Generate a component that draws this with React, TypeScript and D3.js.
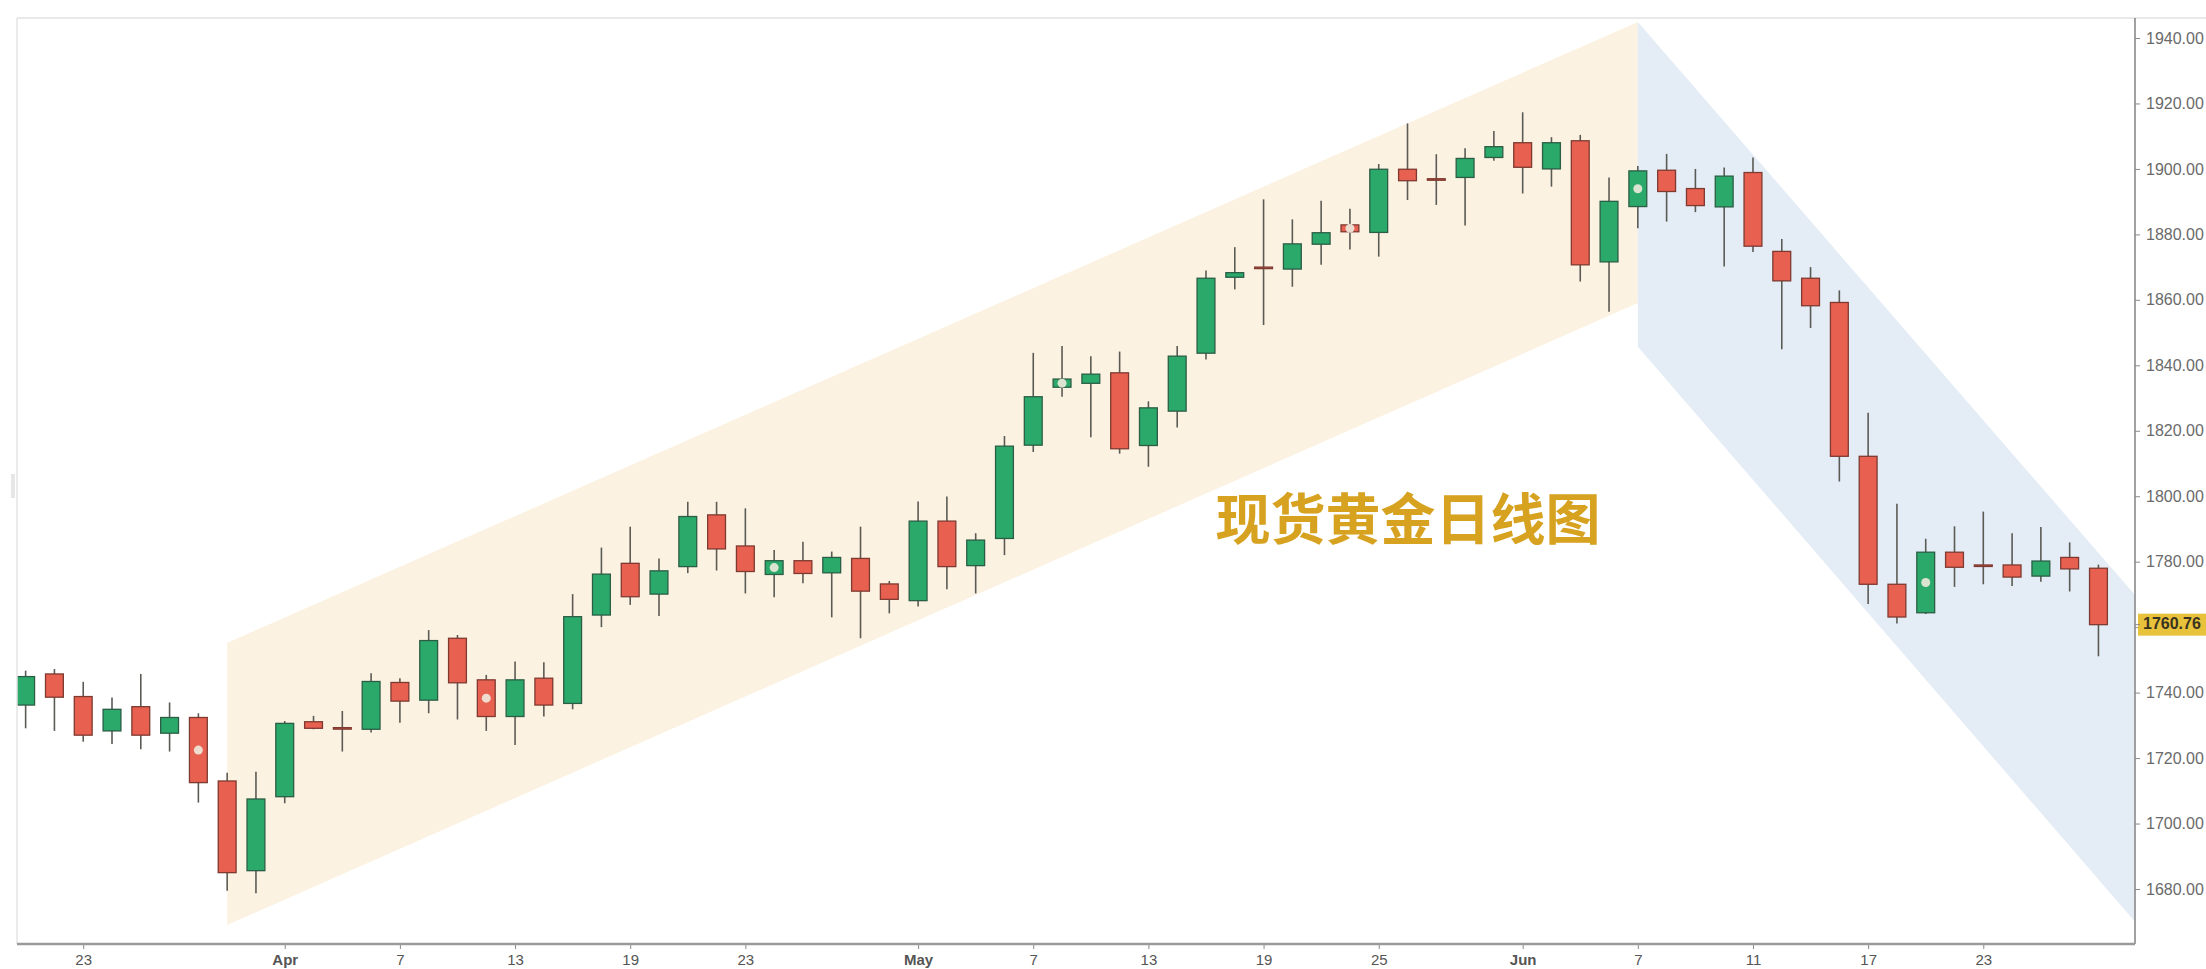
import { useEffect, useRef } from 'react'
import * as d3 from 'd3'

// trading days, Mar 19 - Jun 29
const dates = [
  'Mar 19', 'Mar 22', 'Mar 23', 'Mar 24', 'Mar 25', 'Mar 26', 'Mar 29', 'Mar 30', 'Mar 31',
  'Apr 1', 'Apr 2', 'Apr 5', 'Apr 6', 'Apr 7', 'Apr 8', 'Apr 9', 'Apr 12', 'Apr 13', 'Apr 14', 'Apr 15',
  'Apr 16', 'Apr 19', 'Apr 20', 'Apr 21', 'Apr 22', 'Apr 23', 'Apr 26', 'Apr 27', 'Apr 28', 'Apr 29', 'Apr 30',
  'May 3', 'May 4', 'May 5', 'May 6', 'May 7', 'May 10', 'May 11', 'May 12', 'May 13', 'May 14', 'May 17',
  'May 18', 'May 19', 'May 20', 'May 21', 'May 24', 'May 25', 'May 26', 'May 27', 'May 28', 'May 31',
  'Jun 1', 'Jun 2', 'Jun 3', 'Jun 4', 'Jun 7', 'Jun 8', 'Jun 9', 'Jun 10', 'Jun 11', 'Jun 14', 'Jun 15',
  'Jun 16', 'Jun 17', 'Jun 18', 'Jun 21', 'Jun 22', 'Jun 23', 'Jun 24', 'Jun 25', 'Jun 28', 'Jun 29',
]
const opens = [
  1736.2, 1745.7, 1738.8, 1728.3, 1735.7, 1727.6, 1732.4, 1713.0, 1685.6,
  1708.2, 1731.1, 1729.3, 1728.8, 1743.1, 1737.7, 1756.6, 1743.9, 1732.7, 1744.4, 1736.7,
  1763.7, 1779.5, 1770.1, 1778.5, 1794.3, 1784.8, 1776.1, 1780.3, 1776.6, 1781.0, 1773.2,
  1768.1, 1792.4, 1778.8, 1787.1, 1815.6, 1833.3, 1834.5, 1837.7, 1815.5, 1826.0, 1843.7,
  1866.9, 1870.0, 1869.4, 1877.0, 1882.9, 1880.6, 1899.9, 1897.0, 1897.4, 1903.5,
  1908.0, 1900.0, 1908.6, 1871.6, 1888.5, 1899.6, 1894.0, 1888.4, 1898.9, 1874.8, 1866.6,
  1859.2, 1812.2, 1773.1, 1764.4, 1782.9, 1779.0, 1779.0, 1775.6, 1781.3, 1778.0,
]
const highs = [
  1746.7, 1747.2, 1743.3, 1738.5, 1745.7, 1737.0, 1733.7, 1715.5, 1715.8,
  1731.3, 1732.9, 1734.4, 1745.9, 1744.4, 1759.1, 1757.6, 1745.4, 1749.5, 1749.3, 1770.1,
  1784.3, 1790.7, 1781.0, 1798.3, 1798.3, 1796.3, 1783.6, 1786.1, 1783.1, 1790.7, 1774.1,
  1798.4, 1799.9, 1788.7, 1818.4, 1843.8, 1845.9, 1842.8, 1844.2, 1829.0, 1845.9, 1869.0,
  1876.1, 1890.7, 1884.6, 1890.3, 1887.8, 1901.5, 1913.9, 1904.5, 1906.3, 1911.6,
  1917.3, 1909.7, 1910.4, 1897.4, 1900.9, 1904.6, 1900.0, 1900.4, 1903.5, 1878.6, 1870.0,
  1862.9, 1825.5, 1797.7, 1787.0, 1790.8, 1795.3, 1788.7, 1790.6, 1785.9, 1779.1,
]
const lows = [
  1729.1, 1728.3, 1725.0, 1724.3, 1722.7, 1722.0, 1706.4, 1679.5, 1678.7,
  1706.2, 1728.8, 1722.0, 1727.8, 1730.8, 1733.7, 1731.8, 1728.3, 1724.0, 1732.7, 1734.9,
  1760.0, 1766.8, 1763.4, 1776.5, 1777.3, 1770.3, 1769.1, 1773.4, 1763.0, 1756.6, 1764.2,
  1766.3, 1771.6, 1770.3, 1782.0, 1813.5, 1830.4, 1818.0, 1813.0, 1809.0, 1821.0, 1841.8,
  1863.2, 1852.3, 1864.0, 1870.7, 1875.4, 1873.2, 1890.5, 1889.0, 1882.7, 1902.5,
  1892.5, 1894.6, 1865.6, 1856.4, 1881.9, 1883.9, 1886.8, 1870.2, 1874.6, 1844.9, 1851.4,
  1804.5, 1767.1, 1761.1, 1764.0, 1772.3, 1773.1, 1772.6, 1773.9, 1770.9, 1751.1,
]
const closes = [
  1744.9, 1738.6, 1727.0, 1734.9, 1727.0, 1732.4, 1712.5, 1685.0, 1707.5,
  1730.6, 1729.1, 1729.0, 1743.4, 1737.4, 1755.9, 1743.0, 1732.7, 1743.9, 1736.2, 1763.2,
  1776.2, 1769.3, 1777.2, 1793.8, 1783.9, 1777.0, 1780.3, 1776.4, 1781.3, 1771.0, 1768.5,
  1792.4, 1778.5, 1786.6, 1815.3, 1830.4, 1835.8, 1837.3, 1814.5, 1827.0, 1842.8, 1866.6,
  1868.3, 1869.6, 1877.1, 1880.5, 1880.8, 1899.9, 1896.4, 1896.6, 1903.2, 1906.8,
  1900.5, 1908.0, 1870.7, 1890.1, 1899.4, 1893.1, 1888.8, 1897.8, 1876.4, 1865.8, 1858.2,
  1812.2, 1773.1, 1763.1, 1782.9, 1778.3, 1778.9, 1775.3, 1780.2, 1777.8, 1760.76,
]

// candles carrying a small light marker
const markedDates = ['Mar 29', 'Apr 12', 'Apr 26', 'May 10', 'May 24', 'Jun 7', 'Jun 21']

const xTickDates = ['Mar 23', 'Apr 1', 'Apr 7', 'Apr 13', 'Apr 19', 'Apr 23', 'May 3', 'May 7', 'May 13',
  'May 19', 'May 25', 'Jun 1', 'Jun 7', 'Jun 11', 'Jun 17', 'Jun 23']
const xTickLabels = ['23', 'Apr', '7', '13', '19', '23', 'May', '7', '13', '19', '25', 'Jun', '7', '11', '17', '23']
const monthLabels = ['Apr', 'May', 'Jun']

const yTicks = [1680, 1700, 1720, 1740, 1760, 1780, 1800, 1820, 1840, 1860, 1880, 1900, 1920, 1940]
const lastPrice = 1760.76

// channels: rising one spans two dates, falling one runs from Jun 7 to the axis
const risingDates = ['Mar 30', 'Jun 7']
const risingUpper = [1755.2, 1944.9]
const risingLower = [1669.0, 1859.0]
const fallingStart = 'Jun 7'
const fallingUpper = [1944.9, 1769.8]
const fallingLower = [1845.7, 1670.0]

const title = '现货黄金日线图'

export default function App() {
  const svgRef = useRef<SVGSVGElement>(null)

  useEffect(() => {
    if (!svgRef.current) return
    document.body.style.margin = '0'

    const W = 2206
    const H = 969
    const left = 17, right = 2135, top = 18, bottom = 944

    const svg = d3.select(svgRef.current)
    svg.selectAll('*').remove()
    svg.attr('width', W).attr('height', H)

    const idx = (d: string) => dates.indexOf(d)

    const x = d3.scaleLinear().domain([-0.3, 73.2]).range([left, right - 2])
    const y = d3.scaleLinear().domain([1680, 1940]).range([889, 38])
    const step = x(1) - x(0)
    const bodyW = step * 0.62

    svg.append('rect').attr('width', W).attr('height', H).attr('fill', '#fff')

    svg.append('defs').append('clipPath').attr('id', 'plot')
      .append('rect')
      .attr('x', left).attr('y', top)
      .attr('width', right - left).attr('height', bottom - top)

    const plot = svg.append('g').attr('clip-path', 'url(#plot)')

    // Channels
    const r0 = x(idx(risingDates[0])), r1 = x(idx(risingDates[1]))
    plot.append('path')
      .attr('d', `M${r0},${y(risingUpper[0])}L${r1},${y(risingUpper[1])}L${r1},${y(risingLower[1])}L${r0},${y(risingLower[0])}Z`)
      .attr('fill', '#fcf2e2')

    const f0 = x(idx(fallingStart)), f1 = x(x.domain()[1]) + 2
    plot.append('path')
      .attr('d', `M${f0},${y(fallingUpper[0])}L${f1},${y(fallingUpper[1])}L${f1},${y(fallingLower[1])}L${f0},${y(fallingLower[0])}Z`)
      .attr('fill', '#e4ecf6')

    const data = dates.map((d, i) => ({
      i, date: d, o: opens[i], h: highs[i], l: lows[i], c: closes[i],
      up: closes[i] > opens[i],
    }))

    // Wicks
    plot.selectAll('.wick')
      .data(data)
      .join('line')
      .attr('class', 'wick')
      .attr('x1', d => x(d.i)).attr('x2', d => x(d.i))
      .attr('y1', d => y(d.h)).attr('y2', d => y(d.l))
      .attr('stroke', '#5b5b55')
      .attr('stroke-width', 1.6)

    // Bodies
    plot.selectAll('.body')
      .data(data)
      .join('rect')
      .attr('class', 'body')
      .attr('x', d => x(d.i) - bodyW / 2)
      .attr('y', d => y(Math.max(d.o, d.c)))
      .attr('width', bodyW)
      .attr('height', d => Math.max(1.5, Math.abs(y(d.o) - y(d.c))))
      .attr('fill', d => d.up ? '#2aa96a' : '#e8604f')
      .attr('stroke', d => d.up ? '#2b5e45' : '#7e3a30')
      .attr('stroke-width', 1.3)

    // Markers
    plot.selectAll('.mark')
      .data(data.filter(d => markedDates.includes(d.date)))
      .join('circle')
      .attr('class', 'mark')
      .attr('cx', d => x(d.i))
      .attr('cy', d => y((d.o + d.c) / 2))
      .attr('r', 4.5)
      .attr('fill', '#eeeadb')
      .attr('opacity', 0.9)

    // Title
    svg.append('text')
      .attr('x', 1408)
      .attr('y', 524)
      .attr('text-anchor', 'middle')
      .attr('dominant-baseline', 'middle')
      .attr('font-family', '"Noto Sans CJK SC", sans-serif')
      .attr('font-weight', 'bold')
      .attr('font-size', '55px')
      .attr('fill', '#d6a21f')
      .text(title)

    // Frame
    svg.append('line')
      .attr('x1', left).attr('x2', W).attr('y1', top).attr('y2', top)
      .attr('stroke', '#e2e2e2').attr('stroke-width', 1.5)
    svg.append('line')
      .attr('x1', left).attr('x2', left).attr('y1', top).attr('y2', bottom)
      .attr('stroke', '#e4e4e4').attr('stroke-width', 1.5)
    svg.append('rect')
      .attr('x', 11).attr('y', 474).attr('width', 4).attr('height', 24)
      .attr('fill', '#e6e6e6')

    // Y axis on the right
    const yAxis = svg.append('g')
      .attr('transform', `translate(${right},0)`)
      .call(d3.axisRight(y).tickValues(yTicks).tickSize(5).tickPadding(6).tickFormat(d => d3.format('.2f')(d as number)))
    yAxis.select('.domain').remove()
    yAxis.append('line')
      .attr('x1', 0).attr('x2', 0).attr('y1', top).attr('y2', bottom)
      .attr('stroke', '#8a8a8a').attr('stroke-width', 1.6)
    yAxis.selectAll('.tick line').attr('stroke', '#8a8a8a')
    yAxis.selectAll('.tick text')
      .attr('fill', '#6a6a6a')
      .attr('font-family', '"Liberation Sans", Arial, sans-serif')
      .attr('font-size', '16px')

    // Last price tag
    const lp = y(lastPrice)
    svg.append('rect')
      .attr('x', right + 3).attr('y', lp - 11)
      .attr('width', W - right - 3).attr('height', 22)
      .attr('fill', '#e9c23c')
    svg.append('line')
      .attr('x1', right).attr('x2', right + 5).attr('y1', lp).attr('y2', lp)
      .attr('stroke', '#8a8a8a')
    svg.append('text')
      .attr('x', right + 8).attr('y', lp)
      .attr('dominant-baseline', 'middle')
      .attr('fill', '#3a3320')
      .attr('font-family', '"Liberation Sans", Arial, sans-serif')
      .attr('font-size', '16px')
      .attr('font-weight', 'bold')
      .text(d3.format('.2f')(lastPrice))

    // X axis
    const tickIdx = xTickDates.map(idx)
    const xAxis = svg.append('g')
      .attr('transform', `translate(0,${bottom})`)
      .call(d3.axisBottom(x).tickValues(tickIdx).tickSize(5).tickPadding(5)
        .tickFormat((_, k) => xTickLabels[k]))
    xAxis.select('.domain').remove()
    xAxis.append('line')
      .attr('x1', left).attr('x2', right).attr('y1', 0).attr('y2', 0)
      .attr('stroke', '#9a9a9a').attr('stroke-width', 2.5)
    xAxis.selectAll('.tick line').attr('stroke', '#8a8a8a')
    xAxis.selectAll<SVGTextElement, number>('.tick text')
      .attr('fill', '#555')
      .attr('font-family', '"Liberation Sans", Arial, sans-serif')
      .attr('font-size', '15px')
      .attr('font-weight', (_, k) => monthLabels.includes(xTickLabels[k]) ? 'bold' : 'normal')
  }, [])

  return <svg ref={svgRef} style={{ display: 'block' }}></svg>
}
